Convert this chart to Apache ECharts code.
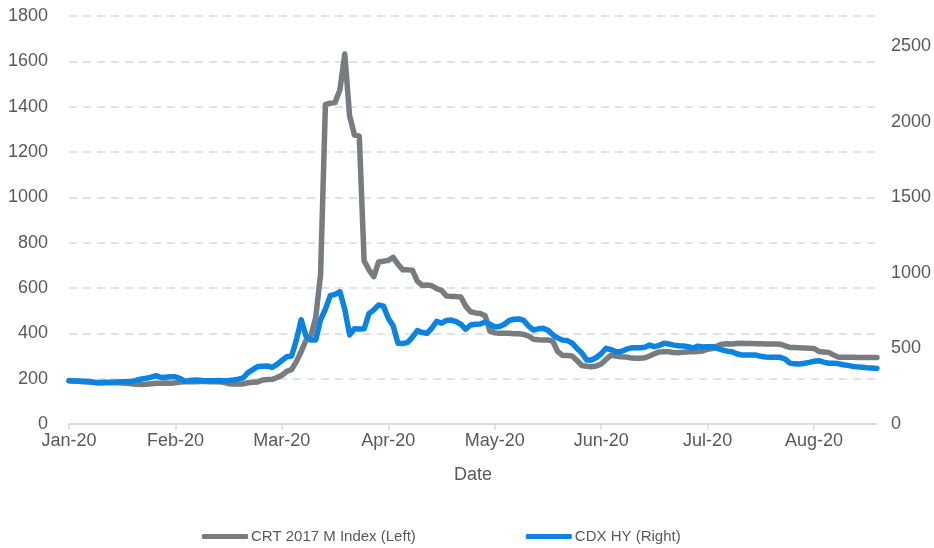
<!DOCTYPE html>
<html>
<head>
<meta charset="utf-8">
<script src="https://cdn.jsdelivr.net/npm/echarts@6/dist/echarts.min.js"></script>
<style>html,body{margin:0;padding:0;background:#fff}#c{width:934px;height:548px}</style>
</head>
<body>
<div id="c"></div>
<script>
// Business days from 2020-01-02 (168 trading days)
const startDate = '2020-01-02';
const dayCount = 168;
const categories = [];
(function(){
  const d = new Date(startDate + 'T00:00:00Z');
  while (categories.length < dayCount) {
    const w = d.getUTCDay();
    if (w !== 0 && w !== 6) categories.push(d.toISOString().slice(0,10));
    d.setUTCDate(d.getUTCDate() + 1);
  }
})();
const monthNames = ['Jan','Feb','Mar','Apr','May','Jun','Jul','Aug','Sep','Oct','Nov','Dec'];

const seriesNames = ['CRT 2017 M Index (Left)', 'CDX HY (Right)'];

const crtValues = [
192,190,188,186,185,184,182,183,182,183,
182,181,180,178,175,174,175,178,180,180,
181,180,182,185,186,187,186,187,187,186,
187,186,184,178,176,176,177,182,184,185,
194,196,197,205,215,232,240,275,320,370,
390,470,660,1410,1415,1418,1475,1632,1360,1275,
1270,720,680,650,715,718,722,735,705,680,
680,678,630,612,613,610,597,590,565,563,
562,560,520,495,490,488,478,410,402,400,
400,400,398,398,395,388,374,372,371,371,
365,320,303,302,300,280,258,255,253,256,
265,285,303,300,297,296,292,290,290,292,
300,310,318,319,319,315,314,317,319,319,
320,322,330,333,345,352,354,353,355,356,
355,355,354,354,353,353,353,352,345,338,
337,336,335,334,333,320,318,316,305,295,
294,294,294,293,293,293,293,293
];

const cdxValues = [
287,285,284,283,281,276,273,275,276,277,
278,279,280,281,290,298,303,310,320,308,
310,312,313,300,282,288,291,289,287,286,
287,288,287,288,292,297,305,340,360,380,
382,384,375,395,420,445,450,555,690,580,
556,556,690,760,850,858,875,760,590,630,
628,630,730,755,788,780,700,650,535,532,
540,575,618,605,600,635,680,667,685,688,
678,660,627,655,660,662,675,660,642,645,
660,685,693,695,685,648,622,630,633,620,
590,570,555,552,535,500,470,424,424,440,
465,501,492,480,478,492,503,505,505,508,
522,512,520,535,530,522,518,516,512,503,
515,510,512,512,500,490,482,478,465,457,
457,457,456,448,443,442,441,441,430,403,
398,397,402,408,415,419,410,402,402,400,
392,388,381,378,375,372,370,368
];

const leftTicks = {min: 0, max: 1800, interval: 200};
const rightTicks = {min: 0, max: 2700, interval: 500};

const FONT = '"Liberation Sans", Arial, sans-serif';
const TXT = '#595959';
const chart = echarts.init(document.getElementById('c'), null, {renderer: 'canvas'});
chart.setOption({
  animation: false,
  textStyle: {fontFamily: FONT},
  grid: {left: 69, right: 57, top: 16, bottom: 124, containLabel: false},
  legend: {
    left: 197, top: 524, itemWidth: 46, itemHeight: 5, itemGap: 110,
    icon: 'roundRect',
    textStyle: {color: TXT, fontSize: 15, fontFamily: FONT, padding: [0, 0, 0, -2]},
    data: seriesNames
  },
  xAxis: {
    type: 'category', data: categories, boundaryGap: false,
    name: 'Date', nameLocation: 'middle', nameGap: 42,
    nameTextStyle: {color: TXT, fontSize: 18, fontFamily: FONT},
    axisLine: {lineStyle: {color: '#d9d9d9', width: 1.5}},
    axisTick: {show: true, interval: 21, length: 6, lineStyle: {color: '#d9d9d9', width: 1.5}},
    axisLabel: {
      interval: 21, margin: 8, color: TXT, fontSize: 18, fontFamily: FONT,
      formatter: function(v){ const p = v.split('-'); return monthNames[+p[1]-1] + '-' + p[0].slice(2); }
    },
    splitLine: {show: false}
  },
  yAxis: [
    {
      type: 'value', min: leftTicks.min, max: leftTicks.max, interval: leftTicks.interval,
      axisLine: {show: false}, axisTick: {show: false},
      axisLabel: {color: TXT, fontSize: 18, margin: 21, fontFamily: FONT,
        formatter: function(v){ return String(v); }},
      splitLine: {show: true, lineStyle: {color: '#d9d9d9', width: 1.5, type: [8, 6]}}
    },
    {
      type: 'value', min: rightTicks.min, max: rightTicks.max, interval: rightTicks.interval,
      axisLine: {show: false}, axisTick: {show: false},
      axisLabel: {color: TXT, fontSize: 18, margin: 14, fontFamily: FONT, showMaxLabel: false,
        formatter: function(v){ return v > 2500 ? '' : String(v); }},
      splitLine: {show: false}
    }
  ],
  series: [
    {
      name: seriesNames[0], type: 'line', yAxisIndex: 0, data: crtValues,
      symbol: 'none', lineStyle: {color: '#777c80', width: 5.5, join: 'round', cap: 'round'},
      itemStyle: {color: '#777c80'}
    },
    {
      name: seriesNames[1], type: 'line', yAxisIndex: 1, data: cdxValues,
      symbol: 'none', lineStyle: {color: '#0a84e0', width: 5.5, join: 'round', cap: 'round'},
      itemStyle: {color: '#0a84e0'}
    }
  ]
});
</script>
</body>
</html>
